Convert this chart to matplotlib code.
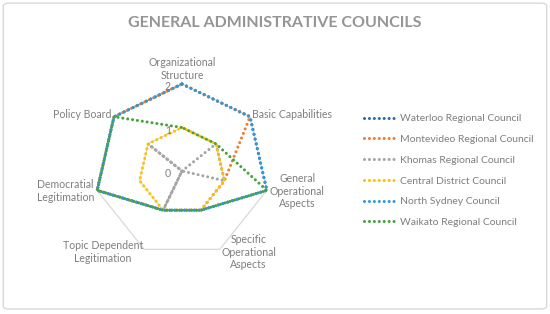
import numpy as np
import matplotlib.pyplot as plt
from matplotlib.lines import Line2D
from matplotlib.patches import FancyBboxPatch

plt.rcParams['font.family'] = ['Lato', 'DejaVu Sans']

categories = ["Organizational\nStructure", "Basic Capabilities", "General\nOperational\nAspects",
              "Specific\nOperational\nAspects", "Topic Dependent\nLegitimation",
              "Democratial\nLegitimation", "Policy Board"]
councils = ["Waterloo Regional Council", "Montevideo Regional Council", "Khomas Regional Council",
            "Central District Council", "North Sydney Council", "Waikato Regional Council"]

waterloo = [2, 2, 2, 1, 1, 2, 2]
montevideo = [2, 2, 1, 1, 1, 2, 2]
khomas = [0, 1, 1, 0, 1, 0, 1]
central = [1, 1, 1, 1, 1, 1, 1]
north_sydney = [2, 2, 2, 1, 1, 2, 2]
waikato = [1, 1, 2, 1, 1, 2, 2]
series = [waterloo, montevideo, khomas, central, north_sydney, waikato]
scale_ticks = [0, 1, 2]

colors = ['#2f67b2', '#ed7d31', '#a5a5a5', '#ffc000', '#2e9ad8', '#47a23c']
offsets = [0, 0, 0, 0, 0, 0.8]
text_col = '#7f7f7f'

# label alignment around the web
has = ['center', 'left', 'left', 'left', 'right', 'right', 'right']
vas = ['bottom', 'center', 'center', 'center', 'center', 'center', 'center']

fig = plt.figure(figsize=(5.5, 3.14), dpi=100)
cx, cy, R = 182 / 550, 1 - 171 / 314, 87
ax = fig.add_axes([cx - R / 550, cy - R / 314, 2 * R / 550, 2 * R / 314], projection='polar')
ax.set_theta_zero_location('N')
ax.set_theta_direction(-1)
ax.set_ylim(0, 2)
ax.axis('off')

n = len(categories)
ang = np.linspace(0, 2 * np.pi, n, endpoint=False)
ang_c = np.append(ang, ang[0])

for r in scale_ticks[1:]:
    ax.plot(ang_c, [r] * (n + 1), color='#d9d9d9', lw=0.9, zorder=1, clip_on=False)

lw = 2.2
handles = []
for vals, c, off in zip(series, colors, offsets):
    v = np.append(vals, vals[0])
    ax.plot(ang_c, v, color=c, lw=lw, linestyle=(off, (0.01, 1.6)), dash_capstyle='round',
            zorder=3, clip_on=False)
    handles.append(Line2D([], [], color=c, lw=lw, linestyle=(0, (0.01, 1.6)),
                          dash_capstyle='round'))

for a, lab, ha, va in zip(ang, categories, has, vas):
    ax.text(a, 2.07, lab, ha=ha, va=va, multialignment='center',
            fontsize=7.6, color=text_col)

for t in scale_ticks:
    ax.annotate(str(t), xy=(0, t), xytext=(-11, -3), textcoords='offset pixels',
                ha='right', va='center', fontsize=7.6, color=text_col)

fig.text(0.5, 0.927, "GENERAL ADMINISTRATIVE COUNCILS", ha='center', va='center',
         fontsize=11.5, fontweight='bold', color='#959595')

fig.legend(handles, councils, loc='upper left', bbox_to_anchor=(364 / 550, 1 - 114 / 314),
           frameon=False, fontsize=7.5, labelcolor=text_col, handlelength=3.0,
           handletextpad=0.45, labelspacing=1.1, borderpad=0, borderaxespad=0)

fig.patches.append(FancyBboxPatch((0.006, 0.016), 0.988, 0.974, boxstyle='round,pad=0,rounding_size=0.01',
                                  transform=fig.transFigure, fill=False, edgecolor='#d9d9d9', lw=1))

fig.savefig('out.png', dpi=100)
